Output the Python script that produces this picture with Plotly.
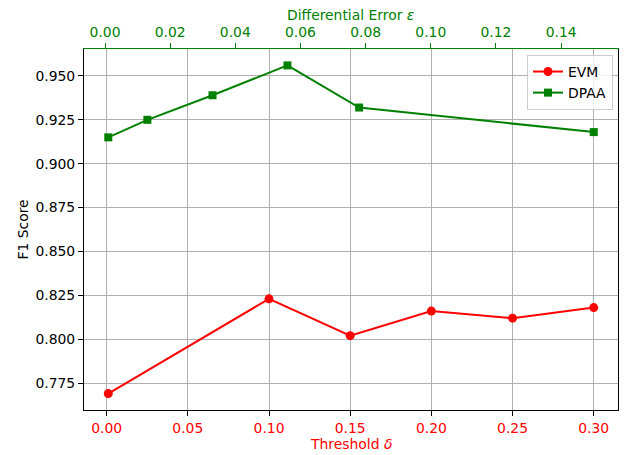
import plotly.graph_objects as go

# Data
evm_threshold = [0.001, 0.10, 0.15, 0.20, 0.25, 0.30]
evm_f1 = [0.769, 0.823, 0.802, 0.816, 0.812, 0.818]

dpaa_error = [0.001, 0.013, 0.033, 0.056, 0.078, 0.150]
dpaa_f1 = [0.915, 0.925, 0.939, 0.956, 0.932, 0.918]

bottom_ticks = [0.00, 0.05, 0.10, 0.15, 0.20, 0.25, 0.30]
top_ticks = [0.00, 0.02, 0.04, 0.06, 0.08, 0.10, 0.12, 0.14]
y_ticks = [0.775, 0.800, 0.825, 0.850, 0.875, 0.900, 0.925, 0.950]

FONT = "DejaVu Sans"
FS = 13.9
RED = "#ff0000"
GREEN = "#008000"

# page offset of the plot div (default body margin)
OFF = 8
PAGE_W, PAGE_H = 628, 455
W, H = PAGE_W - OFF, PAGE_H - OFF
# plot-area edges in page pixels
PX0, PX1, PY0, PY1 = 84, 618, 49, 410
ML, MR, MT, MB = PX0 - OFF, PAGE_W - PX1, PY0 - OFF, PAGE_H - PY1
PW, PH = PX1 - PX0, PY1 - PY0

fig = go.Figure()
fig.add_trace(go.Scatter(
    x=evm_threshold, y=evm_f1, name="EVM", mode="lines+markers",
    line=dict(color=RED, width=2), marker=dict(symbol="circle", size=9, color=RED),
    xaxis="x", yaxis="y",
))
fig.add_trace(go.Scatter(
    x=dpaa_error, y=dpaa_f1, name="DPAA", mode="lines+markers",
    line=dict(color=GREEN, width=2), marker=dict(symbol="square", size=8, color=GREEN),
    xaxis="x2", yaxis="y",
))

def pad(lo, hi, f=0.05):
    s = hi - lo
    return [lo - s * f, hi + s * f]

xr = pad(min(evm_threshold), max(evm_threshold))
x2r = pad(min(dpaa_error), max(dpaa_error))
yr = pad(min(evm_f1 + dpaa_f1), max(evm_f1 + dpaa_f1))

def px_x(px):
    return (px - PX0) / PW

def px_y(py):
    return (PY1 - py) / PH

fig.update_layout(
    width=W, height=H,
    margin=dict(l=ML, r=MR, t=MT, b=MB),
    paper_bgcolor="white", plot_bgcolor="white",
    font=dict(family=FONT, size=FS, color="black"),
    xaxis=dict(
        range=xr, tickmode="array", tickvals=bottom_ticks,
        ticktext=[f"{v:.2f}" for v in bottom_ticks],
        tickfont=dict(color=RED, size=FS), ticks="outside", ticklen=5, tickwidth=1.1, tickcolor="black",
        showline=True, linecolor="black", linewidth=1.1, mirror=False,
        showgrid=True, gridcolor="#b0b0b0", gridwidth=1.1, zeroline=False, automargin=False,
    ),
    xaxis2=dict(
        range=x2r, overlaying="x", side="top", anchor="y", tickmode="array", tickvals=top_ticks,
        ticktext=[f"{v:.2f}" for v in top_ticks],
        tickfont=dict(color=GREEN, size=FS), ticks="outside", ticklen=5, tickwidth=1.1, tickcolor=GREEN,
        showline=True, linecolor=GREEN, linewidth=1.1,
        showgrid=False, zeroline=False, automargin=False,
    ),
    yaxis=dict(
        range=yr, tickmode="array", tickvals=y_ticks,
        ticktext=[f"{v:.3f}" for v in y_ticks],
        ticks="outside", ticklen=5, tickwidth=1.1, tickcolor="black",
        showline=True, linecolor="black", linewidth=1.1, mirror=True,
        showgrid=True, gridcolor="#b0b0b0", gridwidth=1.1, zeroline=False, automargin=False,
    ),
    legend=dict(
        x=px_x(613), y=px_y(55), xanchor="right", yanchor="top",
        bgcolor="rgba(255,255,255,0.8)", bordercolor="#cccccc", borderwidth=1,
        font=dict(size=FS), itemwidth=30,
    ),
    showlegend=True,
    annotations=[
        dict(text="Threshold <i>δ</i>", xref="paper", yref="paper",
             x=0.5, y=px_y(444), xanchor="center", yanchor="middle",
             showarrow=False, font=dict(color=RED, size=FS)),
        dict(text="Differential Error <i>ε</i>", xref="paper", yref="paper",
             x=0.5, y=px_y(15), xanchor="center", yanchor="middle",
             showarrow=False, font=dict(color=GREEN, size=FS)),
        dict(text="F1 Score", xref="paper", yref="paper", textangle=-90,
             x=px_x(22), y=0.5, xanchor="center", yanchor="middle",
             showarrow=False, font=dict(color="black", size=FS)),
    ],
)

fig.write_html("out.html")
